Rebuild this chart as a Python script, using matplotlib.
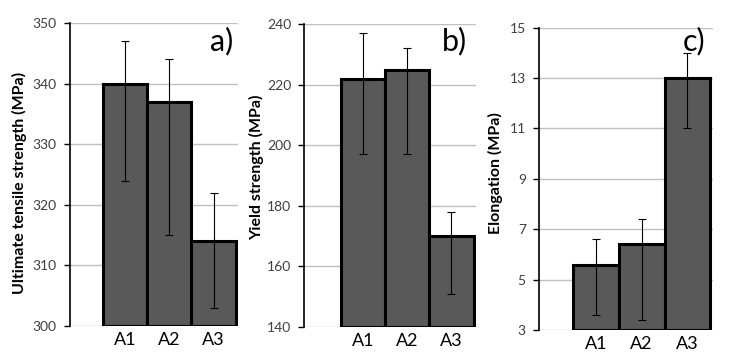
import matplotlib.pyplot as plt
import numpy as np

# Sample names
categories = ['A1', 'A2', 'A3']

# a) Ultimate tensile strength (MPa): value, lower end, upper end of error bar
uts = [340, 337, 314]
uts_low = [324, 315, 303]
uts_high = [347, 344, 322]

# b) Yield strength (MPa)
ys = [222, 225, 170]
ys_low = [197, 197, 151]
ys_high = [237, 232, 178]

# c) Elongation
el = [5.6, 6.4, 13.0]
el_low = [3.6, 3.4, 11.0]
el_high = [6.6, 7.4, 14.0]

panels = [
    (uts, uts_low, uts_high, 'Ultimate tensile strength (MPa)', (300, 350), np.arange(300, 351, 10), 'a)'),
    (ys, ys_low, ys_high, 'Yield strength (MPa)', (140, 240), np.arange(140, 241, 20), 'b)'),
    (el, el_low, el_high, 'Elongation (MPa)', (3, 15), np.arange(3, 16, 2), 'c)'),
]

# axes boxes in figure fractions [left, bottom, width, height]
boxes = [
    [0.0956, 0.0868, 0.2295, 0.8488],
    [0.4157, 0.0840, 0.2342, 0.8480],
    [0.7363, 0.0756, 0.2373, 0.8468],
]
left_pad = [0.745, 0.83, 0.74]
label_xy = [(-0.256, 0.472), (-0.235, 0.527), (-0.207, 0.518)]
letter_x = [0.318, 0.638, 0.963]

plt.rcParams['font.family'] = ['Lato', 'DejaVu Sans']

fig = plt.figure(figsize=(7.32, 3.57), dpi=100)

for (vals, lo, hi, ylabel, ylim, ticks, letter), box, lp, lxy, tx in zip(
        panels, boxes, left_pad, label_xy, letter_x):
    ax = fig.add_axes(box)
    x = np.arange(1, len(categories) + 1)
    vals = np.array(vals)
    yerr = [vals - np.array(lo), np.array(hi) - vals]
    ax.bar(x, vals - ylim[0], bottom=ylim[0], width=1.0, color='#595959',
           edgecolor='black', linewidth=2.2, zorder=3)
    ax.errorbar(x, vals, yerr=yerr, fmt='none', ecolor='black',
                elinewidth=0.8, capsize=3, capthick=0.8, zorder=4)
    ax.set_xlim(0.5 - lp, 3.55)
    ax.set_ylim(*ylim)
    ax.set_yticks(ticks)
    ax.set_xticks(x)
    ax.set_xticklabels(categories, fontsize=13, color='black')
    ax.tick_params(axis='x', length=0, pad=4)
    ax.tick_params(axis='y', length=4.5, width=1, direction='out', labelsize=10,
                   labelcolor='#404040', pad=5)
    ax.yaxis.grid(True, color='#c0c0c0', linewidth=1, zorder=0)
    ax.set_axisbelow(True)
    for s in ['top', 'right', 'bottom']:
        ax.spines[s].set_visible(False)
    ax.spines['left'].set_linewidth(1.2)
    ax.set_ylabel(ylabel, fontsize=11.5, fontweight='bold')
    ax.yaxis.set_label_coords(*lxy)
    fig.text(tx, 0.885, letter, fontsize=22, ha='right', va='center')

plt.savefig('out.png', dpi=100)
